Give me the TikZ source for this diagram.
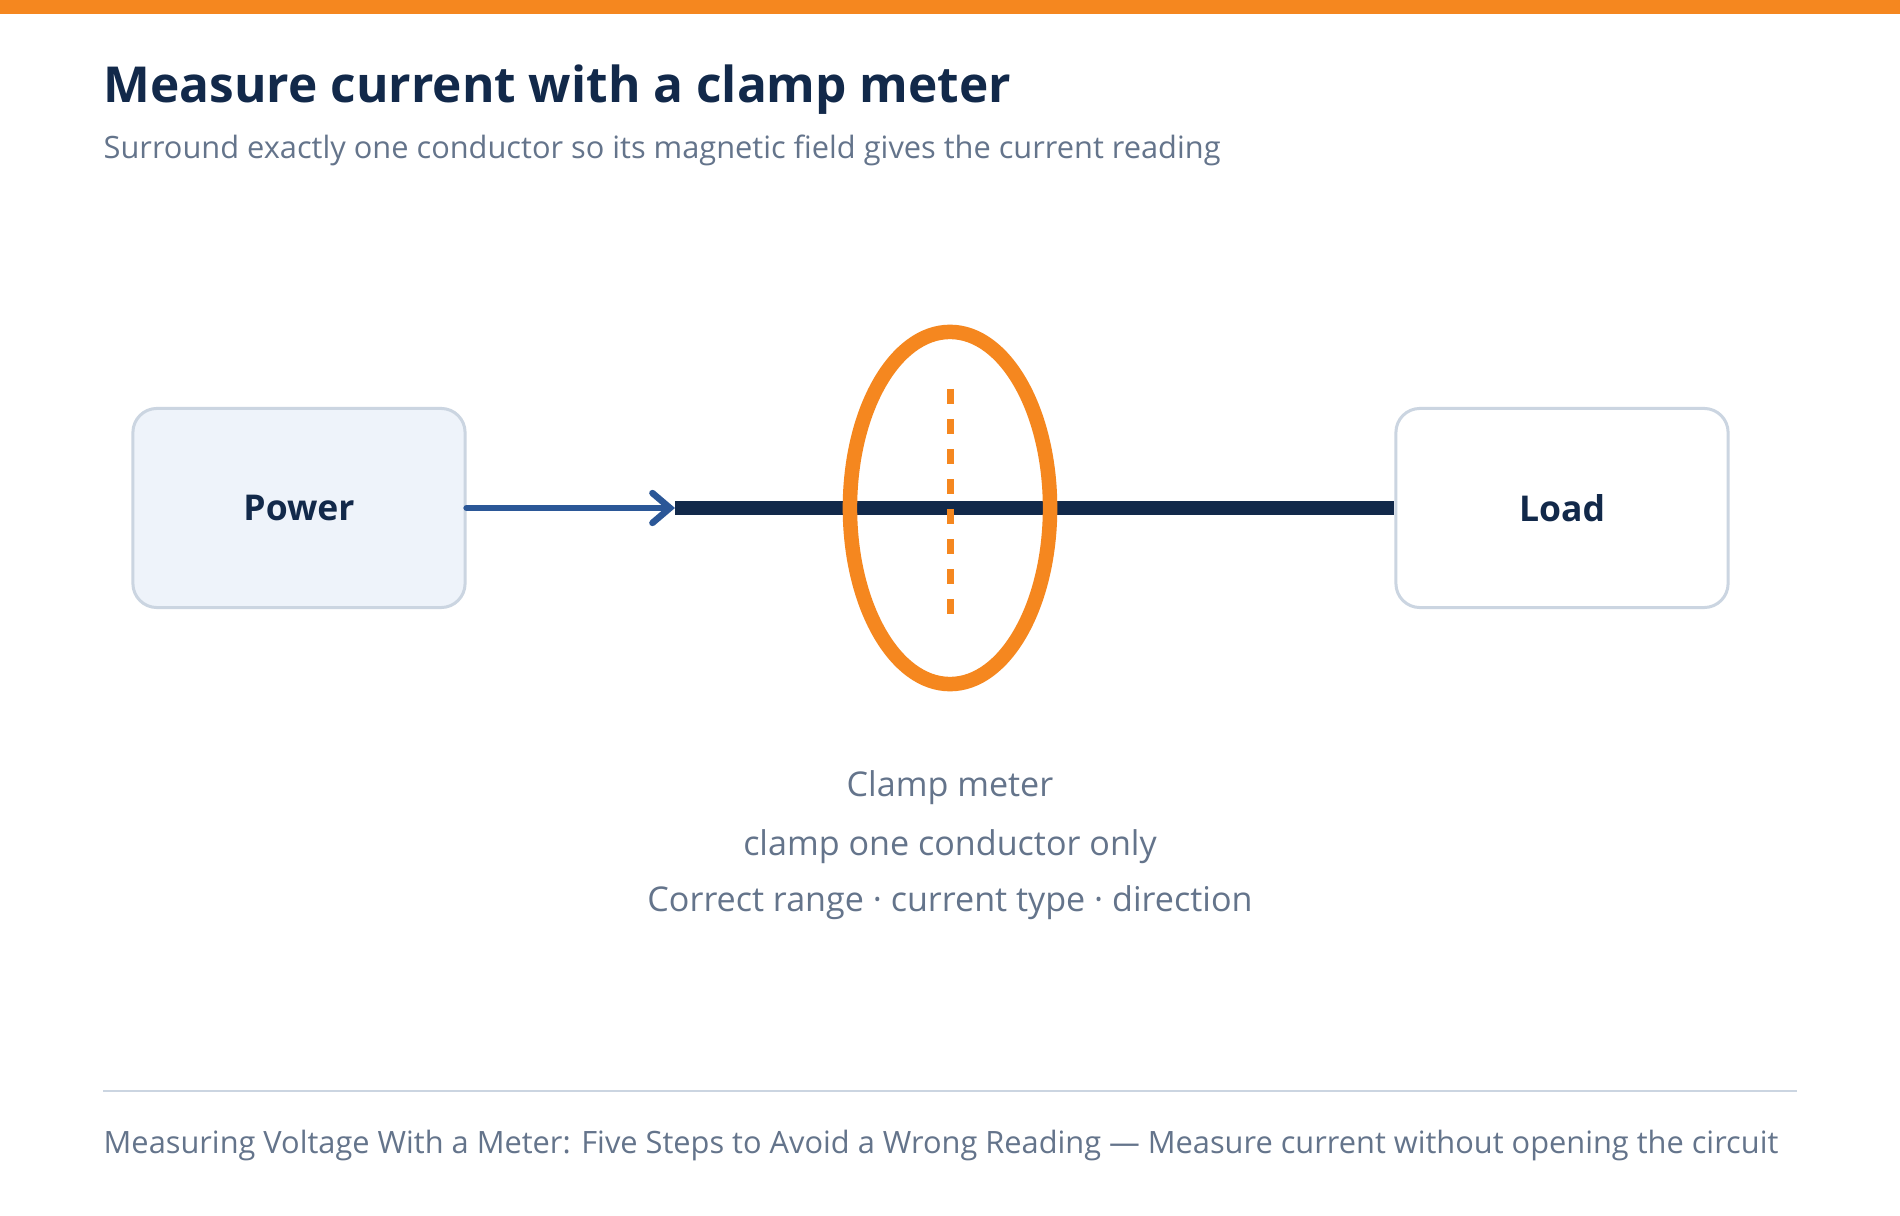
\documentclass[tikz,border=0pt]{standalone}
\usepackage{fontspec}
\setmainfont{Open Sans}
\usetikzlibrary{arrows.meta, positioning, shapes.geometric}
\definecolor{accent}{HTML}{F5871F}
\definecolor{navy}{HTML}{12294A}
\definecolor{wireblue}{HTML}{2B5797}
\definecolor{slate}{HTML}{64748B}
\definecolor{edge}{HTML}{CBD5E1}
\definecolor{boxfill}{HTML}{EEF3FA}

\begin{document}
\begin{tikzpicture}[x=0.01cm, y=-0.01cm, >=Stealth, font=\fontsize{8.75}{10}\selectfont,
  block/.style={draw=edge, line width=0.3mm, rounded corners=2.4mm, minimum width=3.32cm,
    minimum height=1.99cm, text=navy, font=\fontsize{10.1}{12}\selectfont\bfseries},
  note/.style={text=slate, anchor=base, font=\fontsize{9.7}{12}\selectfont}]
  \useasboundingbox (0,0) rectangle (1900,1216);
  \fill[white] (0,0) rectangle (1900,1216);
  \fill[accent] (0,0) rectangle (1900,14);

  % Heading
  \node[anchor=base west, inner sep=0, text=navy, font=\fontsize{14.1}{17}\selectfont\bfseries] (title) at (103,103) {Measure current with a clamp meter};
  \node[anchor=base west, inner sep=0, text=slate] (sub) at (103,159) {Surround exactly one conductor so its magnetic field gives the current reading};

  % Circuit
  \node[block, fill=boxfill] (power) at (299,508) {Power};
  \node[block, fill=white] (load) at (1562,508) {Load};
  \coordinate (tap) at (675,508);
  \draw[wireblue, line width=0.65mm, line cap=round, -{Straight Barb[length=5pt, width=8.5pt, line cap=round]}] (power.east) -- (tap);
  \draw[navy, line width=1.4mm] (tap) -- (load.west);

  % Clamp jaw
  \node[ellipse, draw=accent, line width=1.45mm, minimum width=2cm, minimum height=3.52cm] (clamp) at (950,508) {};
  \coordinate (dtop) at (950,389);
  \coordinate (dbot) at (950,617);
  \draw[accent, line width=0.7mm, dash pattern=on 1.5mm off 1.5mm] (dtop) -- (dbot);

  \node[note] (cap1) at (950,797) {Clamp meter};
  \node[note] (cap2) at (950,855) {clamp one conductor only};
  \node[note] (cap3) at (950,911) {Correct range · current type · direction};

  % Footer
  \draw[edge, line width=0.2mm] (103,1091) -- (1797,1091);
  \node[anchor=base west, inner sep=0, text=slate] (foot) at (103,1153) {Measuring Voltage With a Meter: Five Steps to Avoid a Wrong Reading — Measure current without opening the circuit};
\end{tikzpicture}
\end{document}
